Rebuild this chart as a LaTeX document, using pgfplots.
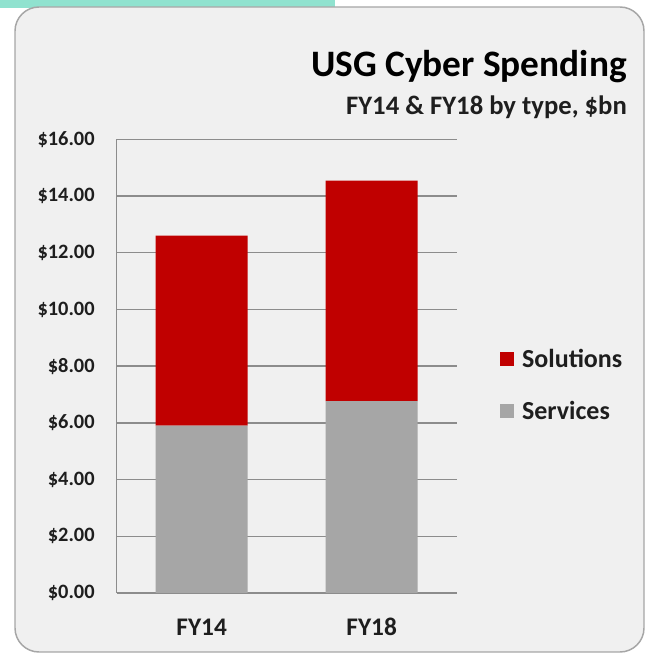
\documentclass[border=0pt]{standalone}
\usepackage{fontspec}
\setmainfont{Carlito}
\usepackage{pgfplots}
\pgfplotsset{compat=1.18}
\definecolor{solred}{HTML}{C00000}
\definecolor{servgray}{HTML}{A6A6A6}
\definecolor{bgpanel}{HTML}{F0F0F0}
\definecolor{gridc}{HTML}{8C8C8C}
\definecolor{tealstrip}{HTML}{90E2CF}
\definecolor{txt}{HTML}{1E1E1E}
\begin{document}
\begin{tikzpicture}
\fill[white] (0pt,0pt) rectangle (489.75pt,492.75pt);
\fill[tealstrip] (0pt,486.75pt) rectangle (251.25pt,492.75pt);
\draw[fill=bgpanel, draw=gray!70, line width=1.1pt, rounded corners=18pt] (11.25pt,3.75pt) rectangle (483pt,487.5pt);
\node[anchor=base east, inner sep=0pt, text=black, font=\bfseries\fontsize{28}{32}\selectfont] at (470.25pt,435pt) {USG Cyber Spending};
\node[anchor=base east, inner sep=0pt, text=txt, font=\bfseries\fontsize{20}{24}\selectfont] at (470.25pt,406.5pt) {FY14 \& FY18 by type, \$bn};
\begin{axis}[
  at={(87.5pt,48pt)}, anchor=south west,
  scale only axis, width=255pt, height=340.3pt,
  ymin=0, ymax=16, xmin=-0.5, xmax=1.5,
  ytick={0,2,...,16}, xtick={0,1}, xticklabels={FY14,FY18},
  ybar stacked, bar width=69pt,
  axis x line*=bottom, axis y line*=left,
  axis line style={gridc, line width=1.1pt},
  ymajorgrids, grid style={gridc, line width=1.1pt},
  major tick length=0pt,
  /pgf/number format/assume math mode=true,
  yticklabel={\$\pgfmathprintnumber[fixed,fixed zerofill,precision=2]{\tick}},
  yticklabel style={inner sep=0pt, anchor=east, xshift=-16.3pt, text=txt, font=\bfseries\fontsize{15.3}{18}\selectfont},
  xticklabel style={inner sep=0pt, anchor=base, yshift=-31.5pt, text=txt, font=\bfseries\fontsize{19}{22}\selectfont},
  reverse legend,
  legend style={at={(1.127,0.458)}, anchor=west, draw=none, fill=none, inner sep=0pt,
    font=\bfseries\fontsize{19.5}{23}\selectfont, text=txt, row sep=24pt,
    nodes={inner sep=0pt}},
  legend cell align=left,
]
\addplot[fill=servgray, draw=none, legend image code/.code={\fill[servgray] (0pt,-5.25pt) rectangle (10.5pt,5.25pt); \path (16.5pt,0pt);}] coordinates {(0,5.90) (1,6.77)};
\addlegendentry{Services}
\addplot[fill=solred, draw=none, legend image code/.code={\fill[solred] (0pt,-5.25pt) rectangle (10.5pt,5.25pt); \path (16.5pt,0pt);}] coordinates {(0,6.70) (1,7.77)};
\addlegendentry{Solutions}
\end{axis}
\end{tikzpicture}
\end{document}
